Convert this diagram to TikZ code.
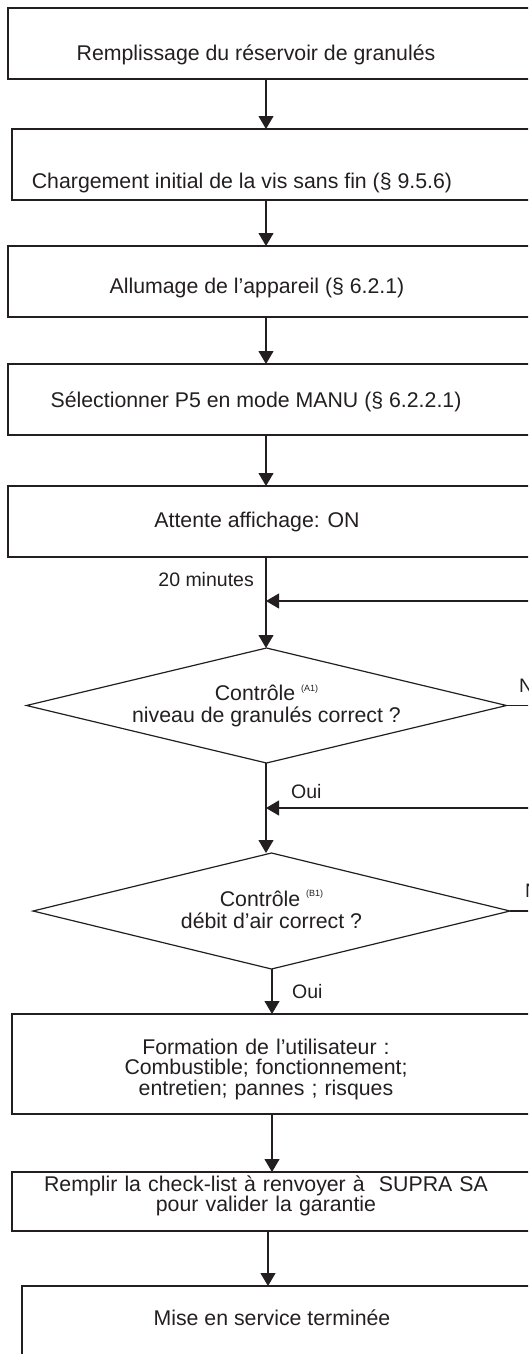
\documentclass[tikz,border=0pt]{standalone}
\usepackage{fontspec}
\setmainfont{Liberation Sans}
\usetikzlibrary{arrows.meta,shapes.geometric}
\definecolor{ink}{HTML}{231F20}
\newcommand{\topstrut}{\rule{0pt}{17pt}}
\newcommand{\botstrut}{\rule[-5pt]{0pt}{5pt}}
\begin{document}
\begin{tikzpicture}[x=1pt,y=-1pt,
  box/.style={draw=ink, line width=1.2pt, rectangle, inner sep=0pt, outer sep=0pt, minimum width=620pt, anchor=north west},
  dia/.style={draw=ink, line width=1.2pt, diamond, inner sep=0pt, outer sep=0pt, align=center, text=ink, font=\fontsize{21.3}{22}\selectfont},
  txt/.style={text=ink, align=center, inner sep=0pt, anchor=base, font=\fontsize{21.3}{20.7}\selectfont},
  mtxt/.style={txt, text width=500pt},
  lbl/.style={text=ink, inner sep=0pt, font=\fontsize{19.5}{20}\selectfont},
  arr/.style={draw=ink, line width=1.1pt, -{Triangle[width=15pt,length=13pt]}},
  ln/.style={draw=ink, line width=1.1pt}]
\path[use as bounding box] (0,0) rectangle (528,1354);
\clip (0,0) rectangle (528,1354);

% boxes
\node[box, minimum height=71pt] (b1) at (8,8) {};
\node[box, minimum height=71pt] (b2) at (12,129) {};
\node[box, minimum height=71pt] (b3) at (8,246) {};
\node[box, minimum height=71pt] (b4) at (8,364) {};
\node[box, minimum height=71pt] (b5) at (8,486) {};
\node[box, minimum height=100pt] (b6) at (12,1014) {};
\node[box, minimum height=59pt] (b7) at (12,1172) {};
\node[box, minimum height=120pt] (b8) at (22,1286) {};

% box texts
\node[txt] (t1) at (256,60) {Remplissage du réservoir de granulés};
\node[txt] (t2) at (242,188) {Chargement initial de la vis sans fin (§ 9.5.6)};
\node[txt] (t3) at (257,293) {Allumage de l’appareil (§ 6.2.1)};
\node[txt] (t4) at (256,407) {Sélectionner P5 en mode MANU (§ 6.2.2.1)};
\node[txt] (t5) at (257,527) {Attente affichage: ON};
\node[mtxt] (t6) at (266,1054) {Formation de l’utilisateur :\\Combustible; fonctionnement;\\entretien; pannes ; risques};
\node[mtxt] (t7) at (266,1191) {Remplir la check-list à renvoyer à~ SUPRA SA\\pour valider la garantie};
\node[txt] (t8) at (272,1325) {Mise en service terminée};

% decisions
\node[dia, aspect=4.17, minimum width=480pt, minimum height=115pt] (d1) at (266.5,705.5)
  {\topstrut Contrôle \raisebox{9.5pt}{\fontsize{9}{9}\selectfont (A1)}\\niveau de granulés correct ?\botstrut};
\node[dia, aspect=4.11, minimum width=477pt, minimum height=116pt] (d2) at (271.5,911)
  {\topstrut Contrôle \raisebox{9.5pt}{\fontsize{9}{9}\selectfont (B1)}\\débit d’air correct ?\botstrut};

% labels
\node[lbl, anchor=base east] (min) at (254,586) {20 minutes};
\node[lbl, anchor=base west] (non1) at (519,692) {Non};
\node[lbl, anchor=base west] (oui1) at (291,798) {Oui};
\node[lbl, anchor=base west] (non2) at (525,897) {Non};
\node[lbl, anchor=base west] (oui2) at (292,998) {Oui};

% connectors
\coordinate (cx) at (266,0);
\coordinate (cx2) at (272,0);
\coordinate (cx3) at (268,0);
\coordinate (j1) at (266,601);
\coordinate (r1) at (545,601);
\coordinate (j2) at (266,808);
\coordinate (r2) at (545,808);

\draw[arr] (b1.south -| cx) -- (b2.north -| cx);
\draw[arr] (b2.south -| cx) -- (b3.north -| cx);
\draw[arr] (b3.south -| cx) -- (b4.north -| cx);
\draw[arr] (b4.south -| cx) -- (b5.north -| cx);
\draw[arr] (b5.south -| cx) -- (d1.north -| cx);
\draw[arr] (r1) -- (j1);
\draw[ln] (d1.east) -- (d1.east -| r1);
\draw[arr] (d1.south -| cx) -- (d2.north -| cx);
\draw[arr] (r2) -- (j2);
\draw[ln] (d2.east) -- (d2.east -| r2);
\draw[arr] (d2.south -| cx2) -- (b6.north -| cx2);
\draw[arr] (b6.south -| cx2) -- (b7.north -| cx2);
\draw[arr] (b7.south -| cx3) -- (b8.north -| cx3);
\end{tikzpicture}
\end{document}
